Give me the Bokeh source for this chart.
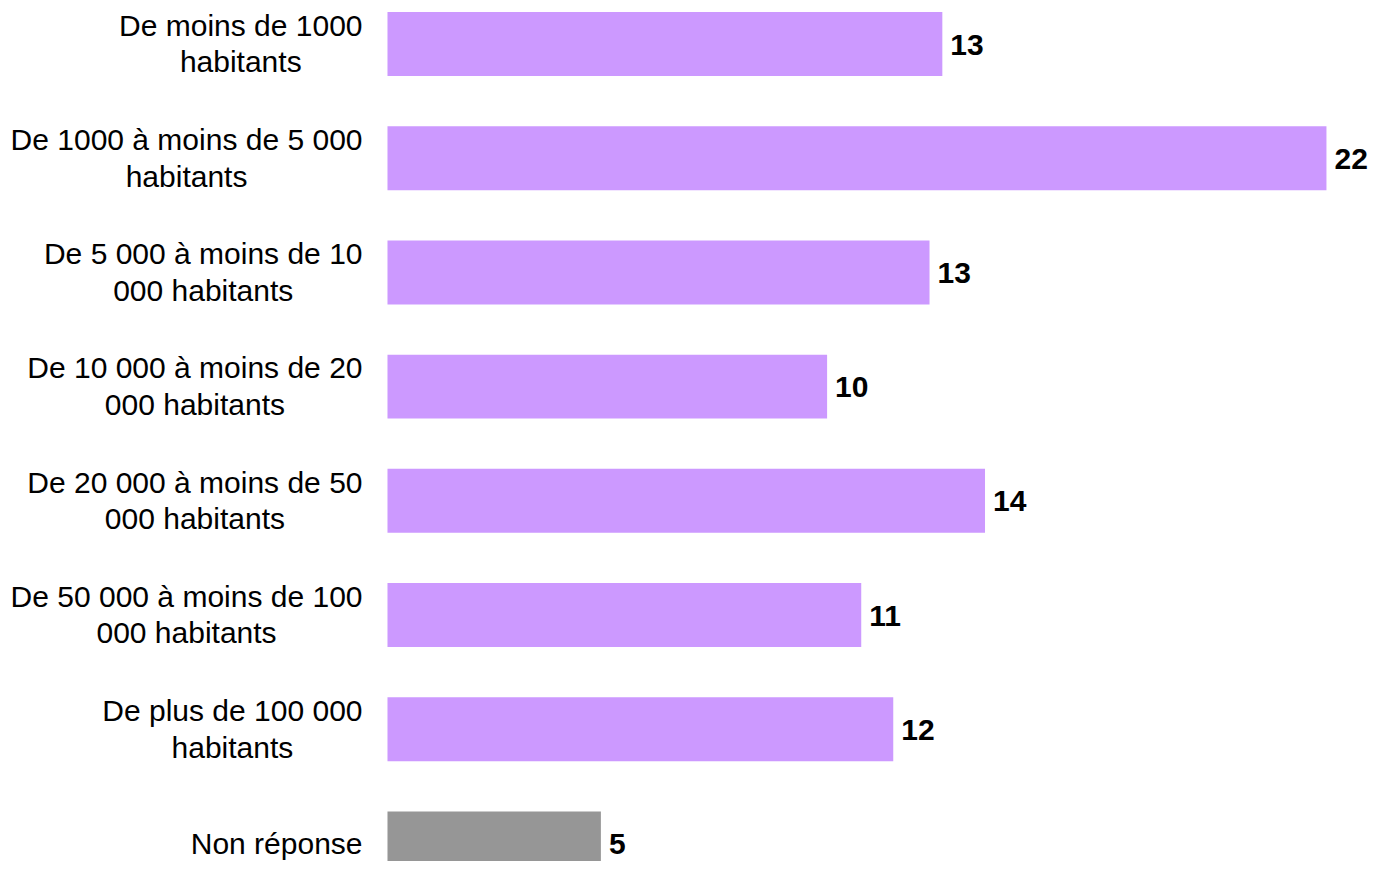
from bokeh.plotting import figure
from bokeh.models import ColumnDataSource, Range1d
from bokeh.core.properties import value
from bokeh.embed import file_html
from bokeh.resources import INLINE

# ---- data ----
category_lines = [
    ["De moins de 1000", "habitants"],
    ["De 1000 à moins de 5 000", "habitants"],
    ["De 5 000 à moins de 10", "000 habitants"],
    ["De 10 000 à moins de 20", "000 habitants"],
    ["De 20 000 à moins de 50", "000 habitants"],
    ["De 50 000 à moins de 100", "000 habitants"],
    ["De plus de 100 000", "habitants"],
    ["Non réponse"],
]
values = [13.0, 22.0, 12.7, 10.3, 14.0, 11.1, 11.85, 5.0]
value_labels = ["13", "22", "13", "10", "14", "11", "12", "5"]

PURPLE = "#CC99FF"
GRAY = "#969696"
FONT = "Liberation Sans"
FS = 30.0  # px

# Arial / Liberation Sans advance widths (per 1000 em) for centering lines
ADV = {' ': 278, 'D': 722, 'N': 722, 'a': 556, 'à': 556, 'b': 556, 'd': 556,
       'e': 556, 'é': 556, 'h': 556, 'n': 556, 'o': 556, 'p': 556, 'u': 556,
       'i': 222, 'l': 222, 'm': 833, 'r': 333, 's': 500, 't': 278}


def text_w(s):
    return sum(ADV.get(c, 556) for c in s) * FS / 1000.0


n = len(values)
ypos = list(range(n))
colors = [GRAY if lines == ["Non réponse"] else PURPLE for lines in category_lines]

bar_src = ColumnDataSource(dict(y=ypos, value=values, label=value_labels, color=colors))

# category label lines
lx, ly, lt, lxo, lyo = [], [], [], [], []
LINE_H = 36.7
GAP = 25
for i, lines in enumerate(category_lines):
    maxw = max(text_w(s) for s in lines)
    k = len(lines)
    for j, s in enumerate(lines):
        lx.append(0)
        ly.append(i)
        lt.append(s)
        lxo.append(-(GAP + maxw / 2.0))
        lyo.append(-0.4 - (k - 1) * LINE_H / 2.0 + j * LINE_H)
cat_src = ColumnDataSource(dict(x=lx, y=ly, text=lt, xo=lxo, yo=lyo))

W, H = 1368, 861
p = figure(width=W, height=H, output_backend="svg", toolbar_location=None,
           x_range=Range1d(-9.067, 22.985), y_range=Range1d(7.158, -0.381),
           x_axis_location=None, y_axis_location=None,
           min_border=0, min_border_left=0, min_border_right=0,
           min_border_top=0, min_border_bottom=0)
p.outline_line_color = None
p.xgrid.visible = False
p.ygrid.visible = False
p.background_fill_color = "white"
p.border_fill_color = "white"

p.hbar(y="y", left=0, right="value", height=0.56, fill_color="color",
       line_color=None, source=bar_src)

p.text(x="value", y="y", text="label", source=bar_src, x_offset=8, y_offset=0.5,
       text_align="left", text_baseline="alphabetic", text_color="black",
       text_font=value(FONT), text_font_style="bold", text_font_size=value(f"{FS}px"))

p.text(x="x", y="y", text="text", source=cat_src, x_offset="xo", y_offset="yo",
       text_align="center", text_baseline="alphabetic", text_color="black",
       text_font=value(FONT), text_font_size=value(f"{FS}px"))

open("out.html", "w").write(file_html(p, INLINE))
